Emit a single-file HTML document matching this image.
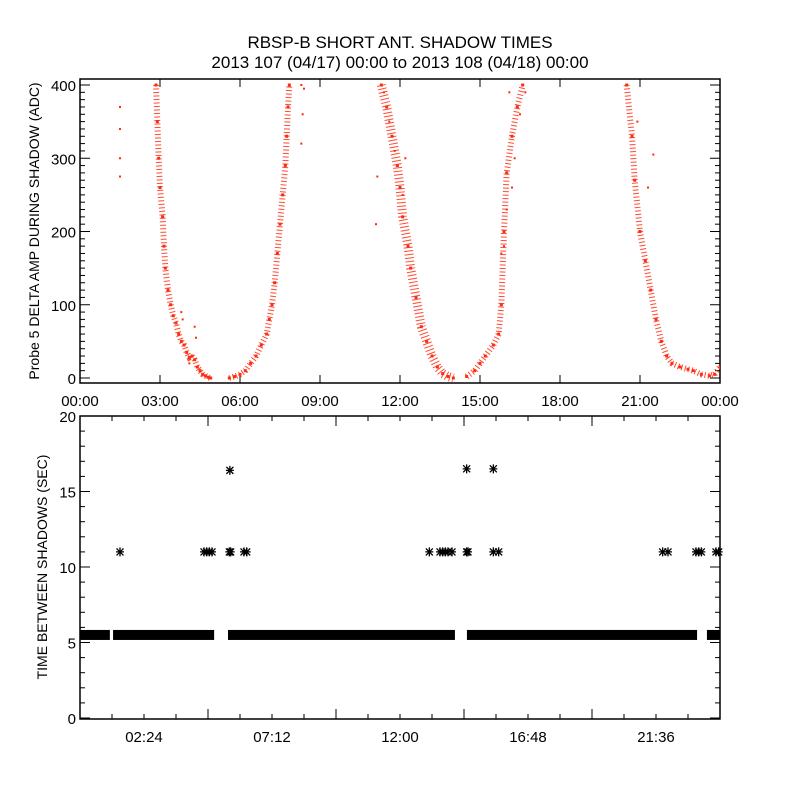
<!DOCTYPE html>
<html><head><meta charset="utf-8"><style>
body{margin:0;background:#fff}
svg text{font-family:"Liberation Sans",sans-serif;fill:#000}
</style></head><body>
<svg id="c" width="800" height="800" viewBox="0 0 800 800" xmlns="http://www.w3.org/2000/svg">
<rect width="800" height="800" fill="#fff"/>
<text x="400" y="48" font-size="17" text-anchor="middle">RBSP-B SHORT ANT. SHADOW TIMES</text>
<text x="400" y="68" font-size="17" text-anchor="middle">2013 107 (04/17) 00:00 to 2013 108 (04/18) 00:00</text>
<g id="topPanel"></g>
<g id="botPanel"></g>
</svg>
<script>
// ---- top panel data (hour, ADC) ----
const branch1Hours=[2.85,2.9,2.95,3.0,3.1,3.15,3.2,3.3,3.4,3.5,3.6,3.7,3.8,3.9,4.0,4.1,4.2,4.3,4.4,4.5,4.6,4.7,4.8,4.9];
const branch1Vals=[400,350,300,260,220,180,150,120,100,85,75,60,50,45,35,28,30,25,15,10,5,3,1,0];
const branch2Hours=[5.6,5.8,6.0,6.2,6.4,6.6,6.8,7.0,7.1,7.2,7.3,7.4,7.5,7.6,7.7,7.75,7.8,7.85];
const branch2Vals=[0,2,5,10,20,30,45,60,80,100,130,170,210,250,290,330,370,400];
const branch3Hours=[11.3,11.5,11.7,11.9,12.0,12.1,12.3,12.4,12.6,12.8,13.0,13.2,13.4,13.6,13.8,14.0];
const branch3Vals=[400,370,330,290,260,220,180,150,110,70,50,30,15,6,2,0];
const branch4Hours=[14.5,14.8,15.0,15.2,15.5,15.7,15.8,15.9,16.0,16.2,16.4,16.6];
const branch4Vals=[2,10,20,30,45,60,100,200,280,330,370,400];
const branch5Hours=[20.5,20.7,20.8,21.0,21.2,21.4,21.6,21.8,22.0,22.2,22.5,22.8,23.0,23.3,23.6,23.8,24.0];
const branch5Vals=[400,330,270,200,160,120,80,50,30,20,15,12,10,5,3,5,15];
const scatterHours=[1.5,1.5,1.5,1.5,3.8,3.85,4.3,4.35,8.3,8.35,8.4,8.3,11.1,11.15,11.4,11.6,11.8,12.2,12.1,15.8,16.0,16.2,16.3,16.5,16.7,15.9,16.1,21.5,21.3,20.9,4.1];
const scatterVals=[370,340,300,275,90,80,70,55,320,360,395,400,210,275,390,350,310,300,250,170,230,260,300,360,390,180,390,305,260,350,20];
const topYTicks=[0,100,200,300,400];
const topXTickLabels=["00:00","03:00","06:00","09:00","12:00","15:00","18:00","21:00","00:00"];
// ---- bottom panel data ----
const baseSegStart=[0,1.24,5.55,14.51,23.51];
const baseSegEnd=[1.12,5.03,14.06,23.14,24];
const baseValue=5.5;
const starHours=[1.5,4.65,4.75,4.85,4.95,5.6,5.65,5.62,6.15,6.25,13.1,13.5,13.6,13.7,13.8,13.95,14.5,14.55,14.5,15.5,15.5,15.7,21.85,22.05,23.1,23.2,23.3,23.85,23.95];
const starVals=[11,11,11,11,11,11,11,16.4,11,11,11,11,11,11,11,11,11,11,16.5,16.5,11,11,11,11,11,11,11,11,11];
const botYTicks=[0,5,10,15,20];
const botXTickLabels=["02:24","07:12","12:00","16:48","21:36"];

const NS="http://www.w3.org/2000/svg";
function mk(p,t,a){const e=document.createElementNS(NS,t);for(const k in a)e.setAttribute(k,a[k]);p.appendChild(e);return e;}
const X0=80,X1=720;
const xs=h=>X0+(X1-X0)*h/24;
const T0=383,T1=79,ty=v=>378-(v)*0.7325;
const B0=719,B1=416,by=v=>718-v*15.1;

const tp=document.getElementById('topPanel');
let e=mk(tp,'rect',{x:X0,y:T1,width:X1-X0,height:T0-T1,fill:'none',stroke:'#000','stroke-width':1.5});


for(let v=0;v<=400;v+=10){const L=v%100===0?10:5;
 mk(tp,'line',{x1:X0,x2:X0+L,y1:ty(v),y2:ty(v),stroke:'#000'});
 mk(tp,'line',{x1:X1,x2:X1-L,y1:ty(v),y2:ty(v),stroke:'#000'});}
topYTicks.forEach(v=>{const t=mk(tp,'text',{x:X0-4,y:ty(v)+6,'font-size':15,'text-anchor':'end'});t.textContent=v;
 
 });
topXTickLabels.forEach((s,i)=>{const x=xs(i*3);
 mk(tp,'line',{x1:x,x2:x,y1:T0,y2:T0-8,stroke:'#000'});mk(tp,'line',{x1:x,x2:x,y1:T1,y2:T1+8,stroke:'#000'});
 const t=mk(tp,'text',{x:x,y:406,'font-size':15,'text-anchor':'middle'});t.textContent=s;
 
 });
e=mk(tp,'text',{x:0,y:0,'font-size':14,'text-anchor':'middle',transform:'translate(39,231) rotate(-90)'});
e.textContent='Probe 5 DELTA AMP DURING SHADOW (ADC)';


const clip=mk(tp,'clipPath',{id:'tc'});mk(clip,'rect',{x:X0,y:T1,width:X1-X0,height:T0-T1});
const g=mk(tp,'g',{'clip-path':'url(#tc)'});
[[branch1Hours,branch1Vals],[branch2Hours,branch2Vals],[branch3Hours,branch3Vals],[branch4Hours,branch4Vals],[branch5Hours,branch5Vals]].forEach(([H,V],bi)=>{
 const pts=H.map((h,i)=>xs(h)+','+ty(V[i])).join(' ');
 const pl=mk(g,'polyline',{points:pts,fill:'none',stroke:'#ff2a10','stroke-width':bi===2?9:6,'stroke-dasharray':'1 2.5','stroke-opacity':0.85});
 
 
 H.forEach((h,i)=>{const r=mk(g,'rect',{x:xs(h)-1.5,y:ty(V[i])-1.5,width:3,height:3,fill:'#ff2a10'});
  
  });
});
scatterHours.forEach((h,i)=>{const r=mk(g,'rect',{x:xs(h)-1,y:ty(scatterVals[i])-1,width:2,height:2,fill:'#ff2a10'});
 
 });

const bp=document.getElementById('botPanel');
e=mk(bp,'rect',{x:X0,y:B1,width:X1-X0,height:B0-B1,fill:'none',stroke:'#000','stroke-width':1.5});


for(let v=0;v<=20;v+=1){const L=v%5===0?10:5;
 mk(bp,'line',{x1:X0,x2:X0+L,y1:by(v),y2:by(v),stroke:'#000'});
 mk(bp,'line',{x1:X1,x2:X1-L,y1:by(v),y2:by(v),stroke:'#000'});}
botYTicks.forEach(v=>{const t=mk(bp,'text',{x:X0-4,y:by(v)+6,'font-size':15,'text-anchor':'end'});t.textContent=v;
 
 });
for(let k=1;k<20;k++){const x=xs(k*1.2),L=k%4===0?10:5;
 mk(bp,'line',{x1:x,x2:x,y1:B0,y2:B0-L,stroke:'#000'});mk(bp,'line',{x1:x,x2:x,y1:B1,y2:B1+L,stroke:'#000'});}
botXTickLabels.forEach((s,i)=>{const t=mk(bp,'text',{x:xs((i+0.5)*4.8),y:742,'font-size':15,'text-anchor':'middle'});t.textContent=s;
 
 });
e=mk(bp,'text',{x:0,y:0,'font-size':14,'text-anchor':'middle',transform:'translate(47,567) rotate(-90)'});
e.textContent='TIME BETWEEN SHADOWS (SEC)';


baseSegStart.forEach((s,i)=>{const r=mk(bp,'rect',{x:xs(s),y:by(baseValue)-5,width:xs(baseSegEnd[i])-xs(s),height:10,fill:'#000'});
 
 });
starHours.forEach((h,i)=>{const cx=xs(h),cy=by(starVals[i]);
 const s=mk(bp,'path',{d:`M${cx-4} ${cy}H${cx+4}M${cx} ${cy-4.5}V${cy+4.5}M${cx-3.5} ${cy-3.5}L${cx+3.5} ${cy+3.5}M${cx-3.5} ${cy+3.5}L${cx+3.5} ${cy-3.5}`,stroke:'#000','stroke-width':1.3,fill:'none'});
 
 });
</script>
</body></html>
